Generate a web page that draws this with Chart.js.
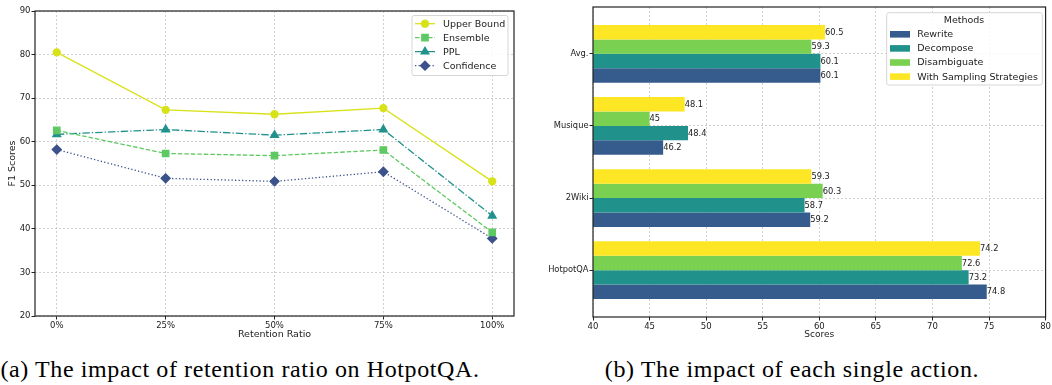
<!DOCTYPE html>
<html>
<head>
<meta charset="utf-8">
<script src="https://cdn.jsdelivr.net/npm/chart.js@4.4.0/dist/chart.umd.min.js"></script>
<style>
body { margin: 0; background: #fff; width: 1052px; height: 385px; position: relative; overflow: hidden; }
#c1 { position: absolute; left: 0; top: 0; }
#c2 { position: absolute; left: 530px; top: 0; }
.cap { position: absolute; top: 357px; font-family: "Liberation Serif", serif; font-size: 24px; line-height: 24px; letter-spacing: 0.6px; white-space: nowrap; transform: translateX(-50%); color: #000; }
</style>
</head>
<body>
<canvas id="c1" width="530" height="345"></canvas>
<canvas id="c2" width="522" height="345"></canvas>
<div class="cap" style="left:240px">(a) The impact of retention ratio on HotpotQA.</div>
<div class="cap" style="left:792px">(b) The impact of each single action.</div>
<script>
// left: retention ratio
var ratioLabels = ['0%', '25%', '50%', '75%', '100%'];
var upperBound = [80.5, 67.3, 66.3, 67.7, 50.9];
var ensemble = [62.6, 57.3, 56.8, 58.1, 39.2];
var ppl = [61.7, 62.8, 61.5, 62.8, 43.0];
var confidence = [58.2, 51.6, 50.9, 53.1, 37.8];

// right: single actions
var datasetNames = ['HotpotQA', '2Wiki', 'Musique', 'Avg.'];
var methodNames = ['Rewrite', 'Decompose', 'Disambiguate', 'With Sampling Strategies'];
var rewrite = [74.8, 59.2, 46.2, 60.1];
var decompose = [73.2, 58.7, 48.4, 60.1];
var disambiguate = [72.6, 60.3, 45, 59.3];
var withSampling = [74.2, 59.3, 48.1, 60.5];
var methodColors = ['#365c8d', '#21918c', '#7ad151', '#fde725'];

var FONT = 'DejaVu Sans';
var gridColor = '#c4c4c4';

function pts(arr) { return arr.map(function (v, i) { return { x: i, y: v }; }); }
function hpts(arr) { return arr.map(function (v, i) { return { x: v, y: i }; }); }

function roundBox(ctx, x, y, w, h, r) {
    ctx.beginPath();
    ctx.moveTo(x + r, y);
    ctx.arcTo(x + w, y, x + w, y + h, r);
    ctx.arcTo(x + w, y + h, x, y + h, r);
    ctx.arcTo(x, y + h, x, y, r);
    ctx.arcTo(x, y, x + w, y, r);
    ctx.closePath();
}

var framePlugin = {
    id: 'frame',
    afterDraw: function (chart) {
        var ctx = chart.ctx, a = chart.chartArea;
        ctx.save();
        ctx.strokeStyle = '#222';
        ctx.lineWidth = 1.2;
        ctx.strokeRect(a.left, a.top, a.right - a.left, a.bottom - a.top);
        ctx.restore();
    }
};

var lineLegend = {
    id: 'lineLegend',
    afterDraw: function (chart) {
        var ctx = chart.ctx;
        ctx.save();
        roundBox(ctx, 412, 15.5, 96, 60, 2);
        ctx.fillStyle = 'rgba(255,255,255,0.85)';
        ctx.fill();
        ctx.strokeStyle = '#d6d6d6';
        ctx.lineWidth = 1;
        ctx.stroke();
        chart.data.datasets.forEach(function (ds, i) {
            var y = 23.7 + i * 14;
            ctx.strokeStyle = ds.borderColor;
            ctx.fillStyle = ds.backgroundColor;
            ctx.lineWidth = ds.borderWidth;
            ctx.setLineDash(ds.borderDash || []);
            ctx.beginPath();
            ctx.moveTo(415, y);
            ctx.lineTo(435, y);
            ctx.stroke();
            ctx.setLineDash([]);
            Chart.helpers.drawPoint(ctx, { pointStyle: ds.pointStyle, radius: ds.pointRadius, borderWidth: 1, rotation: 0 }, 425, y);
            ctx.fillStyle = '#222';
            ctx.font = '9.5px "' + FONT + '"';
            ctx.textBaseline = 'middle';
            ctx.textAlign = 'left';
            ctx.fillText(ds.label, 443, y + 0.5);
        });
        ctx.restore();
    }
};

new Chart(document.getElementById('c1'), {
    type: 'line',
    data: {
        datasets: [
            { label: 'Upper Bound', data: pts(upperBound), borderColor: '#d8e219', backgroundColor: '#d8e219', borderWidth: 1.3, pointStyle: 'circle', pointRadius: 3.5 },
            { label: 'Ensemble', data: pts(ensemble), borderColor: '#5ec962', backgroundColor: '#5ec962', borderWidth: 1.3, borderDash: [4.5, 2], pointStyle: 'rect', pointRadius: 4.5 },
            { label: 'PPL', data: pts(ppl), borderColor: '#21918c', backgroundColor: '#21918c', borderWidth: 1.3, borderDash: [7.5, 2, 1.3, 2], pointStyle: 'triangle', pointRadius: 4.5 },
            { label: 'Confidence', data: pts(confidence), borderColor: '#3b528b', backgroundColor: '#3b528b', borderWidth: 1.3, borderDash: [1.3, 2.2], pointStyle: 'rectRot', pointRadius: 4.5 }
        ]
    },
    options: {
        responsive: false,
        animation: false,
        layout: { padding: { top: 11, right: 16, left: 0, bottom: 0 } },
        plugins: { legend: { display: false }, tooltip: { enabled: false } },
        elements: { line: { tension: 0 }, point: { borderWidth: 1 } },
        scales: {
            x: {
                type: 'linear', min: -0.2, max: 4.2,
                afterFit: function (s) { s.height = 29; },
                border: { display: false, dash: [2, 2] },
                grid: { color: gridColor, lineWidth: 0.8, tickLength: 3.5, tickColor: '#222', tickWidth: 1 },
                ticks: {
                    stepSize: 1, includeBounds: false, padding: 1, color: '#222', maxRotation: 0,
                    font: { family: FONT, size: 8.5 },
                    callback: function (v) { return ratioLabels[v] !== undefined ? ratioLabels[v] : ''; }
                },
                title: { display: true, text: 'Retention Ratio', color: '#222', font: { family: FONT, size: 9.5 }, padding: { top: 0, bottom: 5 } }
            },
            y: {
                min: 20, max: 90,
                afterFit: function (s) { s.width = 35; },
                border: { display: false, dash: [2, 2] },
                grid: { color: gridColor, lineWidth: 0.8, tickLength: 3.5, tickColor: '#222', tickWidth: 1 },
                ticks: { stepSize: 10, padding: 1, color: '#222', font: { family: FONT, size: 8.5 } },
                title: { display: true, text: 'F1 Scores', color: '#222', font: { family: FONT, size: 9.5 }, padding: { top: 7, bottom: 0 } }
            }
        }
    },
    plugins: [framePlugin, lineLegend]
});

var barLabels = {
    id: 'barLabels',
    afterDraw: function (chart) {
        var ctx = chart.ctx;
        ctx.save();
        ctx.fillStyle = '#222';
        ctx.font = '8.3px "' + FONT + '"';
        ctx.textBaseline = 'middle';
        ctx.textAlign = 'left';
        chart.data.datasets.forEach(function (ds, di) {
            chart.getDatasetMeta(di).data.forEach(function (el, i) {
                ctx.fillText(String(ds.data[i].x), el.x, el.y + 0.5);
            });
        });
        ctx.restore();
    }
};

var barLegend = {
    id: 'barLegend',
    afterDraw: function (chart) {
        var ctx = chart.ctx;
        var x0 = 356.7;
        ctx.save();
        roundBox(ctx, x0, 12.7, 155.6, 72.3, 2);
        ctx.fillStyle = 'rgba(255,255,255,0.85)';
        ctx.fill();
        ctx.strokeStyle = '#d6d6d6';
        ctx.lineWidth = 1;
        ctx.stroke();
        ctx.font = '9.5px "' + FONT + '"';
        ctx.textBaseline = 'middle';
        ctx.fillStyle = '#222';
        ctx.textAlign = 'center';
        ctx.fillText('Methods', 434, 21);
        ctx.textAlign = 'left';
        methodNames.forEach(function (name, i) {
            var y = 34.3 + i * 14.1;
            ctx.fillStyle = methodColors[i];
            ctx.fillRect(360, y - 3.3, 20, 6.6);
            ctx.fillStyle = '#222';
            ctx.fillText(name, 387.3, y + 0.5);
        });
        ctx.restore();
    }
};

new Chart(document.getElementById('c2'), {
    type: 'bar',
    data: {
        // drawn top to bottom inside each group
        datasets: [
            { label: methodNames[3], data: hpts(withSampling), backgroundColor: methodColors[3] },
            { label: methodNames[2], data: hpts(disambiguate), backgroundColor: methodColors[2] },
            { label: methodNames[1], data: hpts(decompose), backgroundColor: methodColors[1] },
            { label: methodNames[0], data: hpts(rewrite), backgroundColor: methodColors[0] }
        ]
    },
    options: {
        indexAxis: 'y',
        responsive: false,
        animation: false,
        layout: { padding: { top: 7, right: 5, left: 0, bottom: 0 } },
        plugins: { legend: { display: false }, tooltip: { enabled: false } },
        datasets: { bar: { barPercentage: 1, categoryPercentage: 0.8, borderWidth: 0 } },
        scales: {
            x: {
                type: 'linear', min: 40, max: 80, z: 1,
                afterFit: function (s) { s.height = 28; },
                border: { display: false, dash: [2, 2] },
                grid: { color: gridColor, lineWidth: 0.8, tickLength: 3.5, tickColor: '#222', tickWidth: 1 },
                ticks: { stepSize: 5, padding: 1, color: '#222', maxRotation: 0, font: { family: FONT, size: 8.5 } },
                title: { display: true, text: 'Scores', color: '#222', font: { family: FONT, size: 9 }, padding: { top: 0, bottom: 5 } }
            },
            y: {
                type: 'linear', min: -0.65, max: 3.65, z: 1, offset: false,
                afterFit: function (s) { s.width = 63; },
                border: { display: false, dash: [2, 2] },
                grid: { offset: false, color: gridColor, lineWidth: 0.8, tickLength: 3.5, tickColor: '#222', tickWidth: 1 },
                ticks: {
                    stepSize: 1, includeBounds: false, padding: 1, color: '#222', font: { family: FONT, size: 8.3 },
                    callback: function (v) { return datasetNames[v] !== undefined ? datasetNames[v] : ''; }
                }
            }
        }
    },
    plugins: [framePlugin, barLabels, barLegend]
});
</script>
</body>
</html>
